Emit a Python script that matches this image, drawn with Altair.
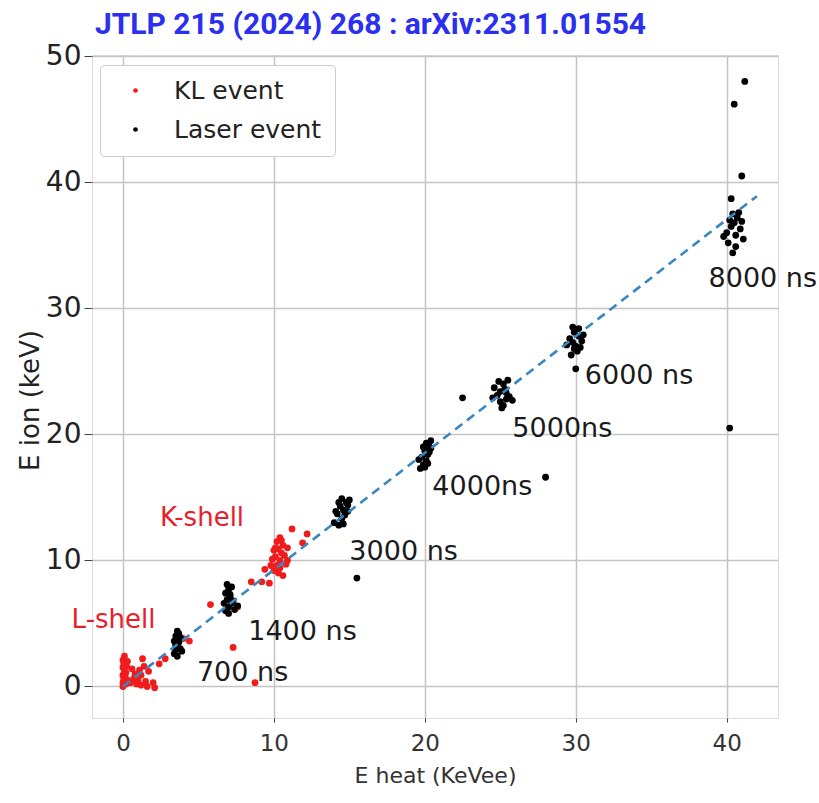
import altair as alt
import pandas as pd

# ---- data ----
kl_x = [0.0, 0.0, 0.05, 0.0, 0.1, 0.0, 0.05, 0.0, 0.1, 0.2, 0.3, 0.15, 0.2, 0.25, 0.3,
        0.5, 0.7, 0.8, 1.0, 1.1, 1.2, 1.3, 1.4, 1.5, 1.6, 1.7, 2.0, 2.1, 1.2, 0.6, 2.4, 2.8, 0.9,
        4.0, 4.4, 7.3, 5.8, 8.75, 7.6, 8.5, 9.2, 9.7, 9.4,
        10.0, 10.2, 10.4, 10.1, 10.5, 10.3, 10.6, 10.2, 10.4, 10.0, 9.9, 10.7, 10.8, 10.3,
        10.6, 9.8, 10.5, 10.1, 10.9, 10.4, 11.2, 12.2, 11.9, 10.9]
kl_y = [0.0, 0.3, 0.6, 0.9, 1.2, 1.5, 1.8, 2.1, 2.4, 0.2, 0.5, 0.8, 1.1, 1.6, 2.0,
        0.3, 0.6, 1.0, 0.5, 1.3, 0.9, 2.2, 1.6, 0.4, 0.0, 1.2, 0.3, -0.1, 0.1, 1.4, 1.8, 2.2, 0.2,
        3.8, 3.6, 3.1, 6.5, 0.3, 6.3, 8.3, 8.3, 8.2, 9.3,
        9.2, 9.6, 10.0, 10.3, 10.6, 10.9, 11.2, 11.5, 11.8, 10.8, 10.1, 10.4, 9.7, 9.0,
        8.8, 9.6, 11.6, 11.0, 10.0, 9.4, 12.5, 12.1, 11.4, 11.0]

laser_x = [3.4, 3.5, 3.6, 3.5, 3.7, 3.6, 3.5, 3.7, 3.6, 3.8, 3.4, 3.9, 3.6, 3.8, 3.5,
           6.8, 7.0, 7.2, 6.9, 7.1, 7.3, 6.8, 7.0, 6.9, 7.2, 7.4, 7.6, 7.0, 7.1, 6.7,
           14.0, 14.3, 14.5, 14.2, 14.6, 14.4, 14.8, 14.5, 14.9, 15.0, 14.1, 14.7, 14.3, 14.6, 14.9, 15.5,
           19.7, 19.9, 20.1, 19.8, 20.2, 20.0, 20.3, 20.1, 20.4, 19.6, 20.0, 20.3, 19.9, 20.2, 20.4,
           22.5, 28.0,
           24.5, 24.8, 25.0, 25.2, 25.4, 25.0, 25.3, 25.6, 25.2, 24.9, 25.5, 24.6, 25.8, 25.1, 25.4,
           29.4, 29.6, 29.8, 30.0, 30.2, 29.9, 30.4, 30.1, 29.7, 30.3, 29.8, 30.2, 30.0, 30.5, 29.9,
           40.0, 40.3, 40.5, 40.7, 40.4, 40.9, 40.6, 41.0, 40.2, 40.8, 39.8, 40.1, 40.6, 40.4, 41.1, 40.3,
           40.5, 41.2, 41.0, 40.2]
laser_y = [2.6, 2.9, 3.1, 3.3, 3.5, 3.8, 4.0, 4.2, 4.4, 3.0, 3.6, 2.8, 2.4, 3.9, 3.4,
           6.0, 6.3, 6.6, 6.9, 7.1, 6.8, 7.4, 7.7, 8.1, 7.9, 6.1, 6.4, 5.8, 7.3, 6.6,
           13.0, 12.8, 13.3, 13.7, 14.0, 14.3, 14.6, 14.9, 14.4, 14.8, 13.9, 13.6, 14.6, 12.9, 13.9, 8.6,
           17.3, 17.6, 17.9, 18.2, 18.4, 18.7, 19.0, 19.3, 19.5, 18.0, 17.4, 18.6, 19.0, 17.7, 18.9,
           22.9, 16.6,
           22.9, 23.1, 22.6, 22.3, 22.8, 23.4, 23.6, 23.0, 24.0, 24.2, 24.3, 23.7, 22.7, 22.1, 23.3,
           27.1, 27.6, 27.3, 27.0, 27.8, 28.1, 27.4, 26.6, 26.3, 26.9, 28.5, 28.4, 25.2, 27.9, 26.8,
           36.0, 36.5, 36.8, 37.2, 37.5, 36.3, 35.8, 36.9, 37.0, 37.6, 35.7, 35.2, 34.9, 34.4, 35.5, 38.7,
           46.2, 48.0, 40.5, 20.5]

fit_x = [0.0, 42.0]
fit_y = [0.0, 38.9]

ann_text = ["8000 ns", "6000 ns", "5000ns", "4000ns", "3000 ns", "1400 ns", "700 ns"]
ann_x = [38.8, 30.6, 25.8, 20.5, 15.0, 8.3, 4.9]
ann_y = [32.3, 24.6, 20.4, 15.8, 10.7, 4.3, 1.1]

shell_text = ["K-shell", "L-shell"]
shell_x = [2.45, -3.4]
shell_y = [13.4, 5.3]

series_names = ["KL event", "Laser event"]
series_colors = ["#f01c1c", "#000000"]

title_text = ["JTLP 215 (2024) 268 : arXiv:2311.01554"]

# ---- tables ----
pts = pd.concat([
    pd.DataFrame({"x": kl_x, "y": kl_y, "s": series_names[0]}),
    pd.DataFrame({"x": laser_x, "y": laser_y, "s": series_names[1]}),
])
fit = pd.DataFrame({"x": fit_x, "y": fit_y})
ann = pd.DataFrame({"x": ann_x, "y": ann_y, "t": ann_text})
shell = pd.DataFrame({"x": shell_x, "y": shell_y, "t": shell_text})
ttl = pd.DataFrame({"t": title_text})

xscale = alt.Scale(domain=[-2.05, 43.4], nice=False, zero=False)
yscale = alt.Scale(domain=[-2.5, 50.1], nice=False, zero=False)

xaxis = alt.Axis(values=[0, 10, 20, 30, 40], title="E heat (KeVee)", grid=True,
                 gridColor="#c4c4c4", gridWidth=1.5, tickSize=4, tickColor="#444",
                 labelFontSize=23, labelFont="DejaVu Sans", labelColor="#333",
                 labelPadding=10, domain=False,
                 titleFont="DejaVu Sans", titleFontSize=22, titleFontWeight="normal",
                 titleColor="#333", titleX=343, titleY=57, titleBaseline="middle")
yaxis = alt.Axis(values=[0, 10, 20, 30, 40, 50], title="E ion (keV)", grid=True,
                 gridColor="#c4c4c4", gridWidth=1.5, tickSize=8, tickColor="#444",
                 labelFontSize=28, labelFont="DejaVu Sans", labelColor="#222",
                 labelPadding=3, domain=False,
                 titleFont="DejaVu Sans", titleFontSize=26, titleFontWeight="normal",
                 titleColor="#222", titleX=-62, titleY=345, titleBaseline="middle")

points = alt.Chart(pts).mark_circle(size=46, opacity=1).encode(
    x=alt.X("x:Q", scale=xscale, axis=xaxis),
    y=alt.Y("y:Q", scale=yscale, axis=yaxis),
    color=alt.Color("s:N", scale=alt.Scale(domain=series_names, range=series_colors),
                    legend=alt.Legend(title=None, orient="none", legendX=8, legendY=10,
                                      labelFontSize=25, labelFont="DejaVu Sans",
                                      labelColor="#222", symbolSize=22, symbolType="circle",
                                      symbolOffset=10, labelOffset=26, rowPadding=13,
                                      padding=13, strokeColor="#cccccc", fillColor="white",
                                      cornerRadius=4, labelLimit=300)),
)

line = alt.Chart(fit).mark_line(color="#3a86c0", strokeWidth=2.6, strokeDash=[9, 6]).encode(
    x=alt.X("x:Q", scale=xscale), y=alt.Y("y:Q", scale=yscale))

labels = alt.Chart(ann).mark_text(align="left", baseline="middle", fontSize=27,
                                  font="DejaVu Sans", color="#1a1a1a").encode(
    x=alt.X("x:Q", scale=xscale), y=alt.Y("y:Q", scale=yscale), text="t:N")

shells = alt.Chart(shell).mark_text(align="left", baseline="middle", fontSize=26,
                                    font="DejaVu Sans", color="#e8202a").encode(
    x=alt.X("x:Q", scale=xscale), y=alt.Y("y:Q", scale=yscale), text="t:N")

title = alt.Chart(ttl).mark_text(align="left", baseline="alphabetic", fontSize=30,
                                 font="Roboto", fontWeight="bold", color="#2a2ff0").encode(
    x=alt.value(3), y=alt.value(-21), text="t:N")

chart = alt.layer(points, line, labels, shells, title).properties(
    width=686, height=663,
    autosize=alt.AutoSizeParams(type="none"),
    padding={"left": 92, "top": 55, "right": 41, "bottom": 85},
).configure_view(stroke="#222", strokeWidth=1.6).configure(background="white")

chart.save("out.html", embed_options={"renderer": "svg", "actions": False})
